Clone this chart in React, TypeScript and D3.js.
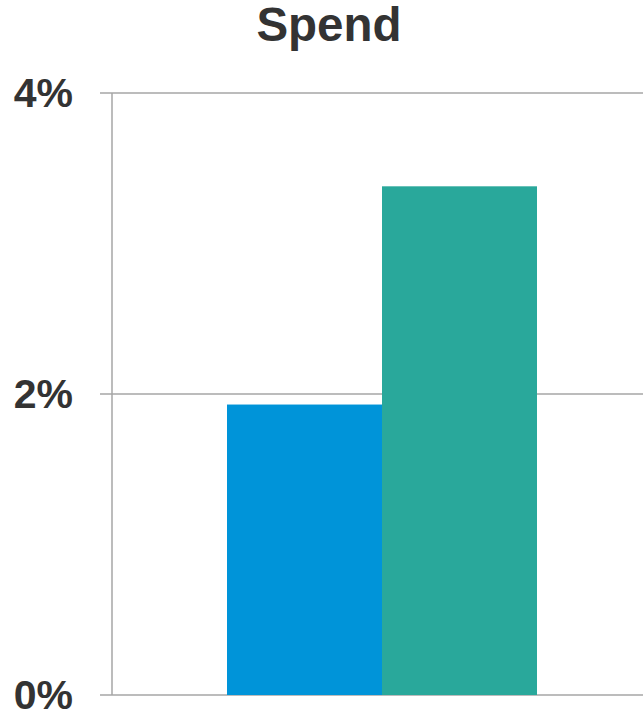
import React from "react";
import * as d3 from "d3";

const categories = ["Spend"];
const series = ["Series A", "Series B"];
const values = [1.93, 3.38];
const yTicks = [0, 2, 4];
const colors = ["#0094d9", "#29a89b"];

const W = 643;
const H = 715;

export default function App() {
  const y = d3.scaleLinear().domain([0, 4]).range([695, 93]);
  const x0 = d3.scaleBand<string>().domain(categories).range([112, 652]).padding(0.2706);
  const x1 = d3.scaleBand<string>().domain(series).range([0, x0.bandwidth()]).padding(0);
  const font = "'Liberation Sans', Arial, sans-serif";
  const grid = "#a6a6a6";
  return (
    <svg width={W} height={H} style={{ position: "absolute", left: 0, top: 0, background: "#fff" }}>
      <text x={329} y={41} textAnchor="middle" fontFamily={font} fontWeight="bold" fontSize={47.5} fill="#333">
        Spend
      </text>
      {yTicks.map((t) => (
        <g key={t}>
          <line x1={100} x2={W} y1={y(t)} y2={y(t)} stroke={grid} strokeWidth={1.5} />
          <text x={73} y={y(t) + 14} textAnchor="end" fontFamily={font} fontWeight="bold" fontSize={41} fill="#333">
            {t}%
          </text>
        </g>
      ))}
      <line x1={112} x2={112} y1={y(4)} y2={y(0)} stroke={grid} strokeWidth={1.5} />
      {categories.map((c) => (
        <g key={c} transform={`translate(${x0(c)},0)`}>
          {series.map((s, i) => (
            <rect
              key={s}
              x={x1(s)}
              y={y(values[i])}
              width={x1.bandwidth()}
              height={y(0) - y(values[i])}
              fill={colors[i]}
            />
          ))}
        </g>
      ))}
    </svg>
  );
}
